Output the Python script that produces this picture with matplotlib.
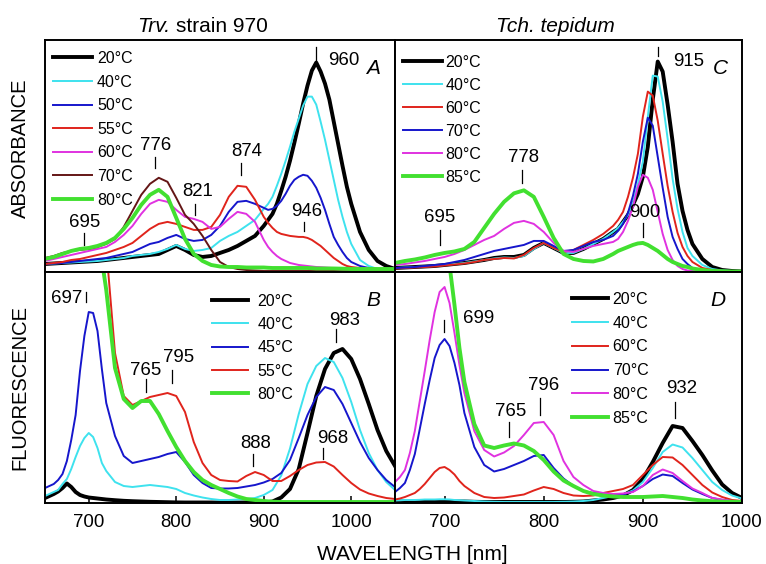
import matplotlib
matplotlib.use("Agg")
import matplotlib.pyplot as plt

plt.rcParams['font.family'] = ['Liberation Sans', 'DejaVu Sans']

# ---------------- wavelength grids (nm) ----------------
wl_a = list(range(650, 901, 10)) + list(range(905, 1001, 5)) + list(range(1010, 1051, 10))
wl_c = list(range(650, 871, 10)) + list(range(875, 951, 5)) + list(range(960, 1001, 10))
wl_b = list(range(650, 721, 5)) + list(range(730, 1051, 10))
wl_b_hot = list(range(700, 721, 5)) + list(range(730, 1051, 10))
wl_d = list(range(650, 721, 5)) + list(range(730, 1001, 10))
wl_d_hot = list(range(700, 721, 5)) + list(range(730, 1001, 10))

# ---------------- Trv. strain 970, absorbance (a.u.) ----------------
abs_a_20 = [8, 8.5, 9, 9.5, 10, 10.5, 11, 12, 13, 14, 15, 16, 17, 18, 22, 26, 22, 17, 15, 16,
            19, 22, 26, 31, 36, 46,
            52, 58, 68, 81, 95, 111, 129, 148, 168, 186, 201, 209, 200, 188, 172, 150, 128, 106, 85, 68,
            40, 22, 11, 6, 3]
abs_a_40 = [8, 8.5, 9, 9.5, 10, 10.5, 11, 12, 13, 14, 16, 17, 18, 20, 23, 27, 23, 21, 22, 24,
            31, 36, 40, 46, 52, 63,
            68, 75, 86, 98, 111, 125, 140, 153, 166, 175, 175, 167, 150, 132, 112, 92, 72, 55, 40, 28,
            12, 6, 3, 2, 1.5]
abs_a_50 = [8, 8.5, 9, 10, 11, 12, 13, 14, 16, 18, 20, 24, 28, 30, 34, 37, 33, 31, 32, 37,
            46, 60, 70, 71, 68, 64,
            62, 63, 66, 71, 78, 86, 92, 95, 97, 96, 91, 84, 74, 62, 48, 35, 27, 20, 14, 10,
            6, 4, 3, 2, 1.5]
abs_a_55 = [8, 9, 10, 12, 13, 15, 17, 19, 22, 25, 29, 36, 43, 48, 50, 48, 45, 42, 42, 45,
            57, 75, 86, 85, 72, 55,
            49, 44, 40, 38, 37, 36, 35.5, 35, 35, 34, 32, 29, 26, 22, 18, 14, 11, 8, 6, 5,
            4, 3, 2, 1.5, 1]
abs_a_60 = [11, 13, 15, 17, 19, 21, 23, 25, 30, 37, 46, 58, 68, 72, 70, 62, 55, 53, 50, 43,
            45, 53, 60, 58, 50, 32,
            25, 20, 16, 13, 11, 9, 8, 7, 6.5, 6, 5.5, 5, 4.8, 4.5, 4.2, 4, 3.8, 3.5, 3.2, 3,
            2.5, 2, 1.5, 1, 1]
abs_a_70 = [14, 16, 19, 21, 22, 23, 25, 28, 33, 45, 61, 77, 88, 94, 90, 74, 57, 48, 36, 22,
            10, 5, 3, 2, 1.5, 1,
            1, 1, 1, 1, 1, 1, 1, 1, 1, 1, 1, 1, 1, 1, 1, 1, 0.9, 0.8, 0.8, 0.8,
            0.5, 0.5, 0.5, 0.5, 0.5]
abs_a_80 = [13, 15, 18, 21, 23, 24, 26, 29, 34, 43, 54, 67, 77, 82, 75, 54, 33, 18, 11, 7,
            5.5, 5, 5, 4.5, 4.5, 4.5,
            4.2, 4, 4, 4, 4, 4, 4, 4, 4, 4, 3.8, 3.5, 3.5, 3.5, 3.5, 3.5, 3.4, 3.3, 3.2, 3,
            3, 3, 3, 3, 3]

# ---------------- Tch. tepidum, absorbance (a.u.) ----------------
abs_c_20 = [4, 4.5, 5, 5.5, 6, 7, 8, 9, 10.5, 12,
            14, 15, 15, 17, 24, 29, 24, 19, 19, 23,
            28, 33, 40,
            43, 50, 57, 67, 78, 95, 125, 172, 210, 200, 167, 130, 88, 61, 42, 28,
            13, 5, 2, 1, 0.5]
abs_c_40 = [4, 4.5, 5, 5.5, 6, 7, 8, 9, 10.5, 12,
            13.5, 14.5, 14, 16, 23, 29, 24, 19, 19, 23,
            28, 33, 40,
            44, 50, 57, 69, 88, 110, 155, 196, 195, 170, 133, 93, 63, 40, 24, 16,
            7, 3, 1.5, 1, 0.5]
abs_c_60 = [3.5, 4, 4.5, 5, 5.5, 6.5, 7.5, 8.5, 10, 12,
            13, 14, 13.5, 17, 24, 29, 24, 20, 22, 27,
            32, 38, 46,
            52, 60, 75, 94, 118, 155, 180, 176, 151, 118, 86, 60, 39, 25, 16, 10,
            4, 2, 1, 0.5, 0.5]
abs_c_70 = [4, 4.5, 5, 6, 7, 8, 10, 12, 15, 18,
            21, 23, 25, 27, 31, 31, 26, 21, 22, 26,
            30, 32, 36,
            41, 48, 59, 76, 98, 130, 154, 146, 115, 84, 55, 35, 23, 13, 8, 4,
            1.5, 1, 0.5, 0.5, 0.5]
abs_c_80 = [7, 8, 9.5, 11, 13, 15, 18, 22, 27, 32,
            36, 43, 49, 51, 48, 40, 29, 21, 20, 23,
            26, 28, 30,
            33, 40, 51, 65, 85, 97, 94, 82, 60, 38, 22, 12, 6, 3, 1.5, 1,
            0.5, 0.5, 0.5, 0.5, 0.5]
abs_c_85 = [9, 11, 12.5, 14.5, 17, 19, 20.5, 23, 30, 44,
            58, 70, 78.5, 81.5, 75, 55, 34, 18, 13, 11,
            10.5, 13, 18,
            21, 23, 25, 27, 28.5, 29, 27, 24, 21, 17, 13, 10, 8, 6, 5, 3.5,
            2, 1, 0.8, 0.5, 0.5]

# ---------------- Trv. strain 970, fluorescence (a.u.) ----------------
fl_b_20 = [5, 7, 9, 11.5, 15, 19.5, 16, 11, 8, 6.5, 5.5, 5, 4.5, 4, 3.5,
           2.8, 2.2, 1.8, 1.5, 1.2, 1, 0.8, 0.6, 0.5, 0.5,
           0.5, 0.5, 0.5, 0.5, 0.5, 0.5, 0.5, 0.5, 1.5, 5.5,
           14, 34, 70, 107, 134, 150, 154, 144, 124, 99,
           73, 52, 37]
fl_b_40 = [7, 9, 11, 13, 19, 24, 34, 46, 57, 65, 70, 66, 55, 40, 32,
           21, 17, 16, 17, 18, 17, 16, 14, 10, 7.5,
           5.5, 4, 3, 3, 3.5, 4, 5, 8, 13, 27.5,
           54.5, 89, 119, 137, 145, 141, 125, 101, 73, 50,
           33, 21, 13]
fl_b_45 = [15, 17, 19, 23, 29, 42, 63, 88, 132, 167, 191, 190, 172, 134, 100,
           67, 47, 40, 42, 44, 46, 49, 51, 41, 28,
           20, 15, 14.5, 14.5, 15, 16.5, 18, 20.5, 24, 30,
           43, 65, 88, 106, 116, 113, 99, 80, 61, 45,
           33, 23, 16]
fl_b_55 = [480, 420, 370, 315, 255,
           150, 107, 98, 102, 106, 108, 110, 107, 91, 61,
           40, 28, 23, 22, 21.5, 27, 31, 28, 22, 22,
           27, 33, 38, 40.5, 41, 36.5, 28, 20, 13.5, 9.5,
           7, 5, 4]
fl_b_80 = [340, 310, 275, 243, 213,
           135, 104, 95, 102, 102, 89, 72, 56, 42, 31,
           23, 18, 14, 10, 6.5, 4, 3, 2, 1.3, 1,
           1, 1, 1, 1, 1, 1, 1, 1, 1, 1,
           1, 1, 1]

# ---------------- Tch. tepidum, fluorescence (a.u.) ----------------
fl_d_20 = [1.5, 1.5, 1.5, 1.5, 1.5, 1.5, 1.5, 1.5, 1.5, 1.5, 1.5, 1.5, 1.5, 1.5, 1.5,
           1.2, 1, 1, 1, 1, 1, 1, 1, 1, 1,
           1.2, 1.5, 2.5, 3.5, 5, 7.5, 13, 24, 41, 60,
           77, 75, 62, 48, 32.5, 18.5, 10, 5]
fl_d_40 = [2.5, 2.7, 3, 3, 3, 3.2, 3.5, 3.5, 3.5, 3.7, 3.7, 3.5, 3, 2.8, 2.5,
           2, 1.5, 1.2, 1, 1, 1, 1, 1, 1, 1.2,
           1.5, 2, 3, 5, 7, 8.5, 12.5, 21, 35, 51,
           58.5, 55.5, 45, 33, 21, 13, 7.5, 4.5]
fl_d_60 = [3.5, 4.5, 6, 8, 10, 14, 19, 25, 31, 35, 36, 33, 28.5, 22, 17,
           10, 6, 5, 5.5, 7, 8.5, 12.5, 16, 14, 10,
           7.5, 7, 7.5, 10, 12, 14, 18, 28, 38, 46,
           45.5, 38, 28, 18, 10.5, 6, 3, 2]
fl_d_70 = [11, 15, 20, 33, 49, 74, 99, 123, 145, 158, 164, 157, 140, 118, 90,
           56, 38, 31.5, 34, 38, 42, 47, 48, 35, 24.5,
           17, 12, 10, 9, 8.5, 8.5, 11.5, 17, 24, 28.5,
           27, 20, 13.5, 9, 5, 3, 1.8, 1]
fl_d_80 = [21, 26, 33, 50, 72, 102, 132, 163, 191, 211, 216, 200, 170, 138, 110,
           72, 53, 46.5, 50.5, 57, 68, 80, 81, 68, 42,
           26, 18, 12, 10, 9, 9.5, 11, 17, 28, 33.5,
           30, 22, 14.5, 10, 5, 3.5, 2, 1.2]
fl_d_85 = [280, 238, 198, 155, 121,
           79, 57.5, 55, 57.5, 59.5, 57.5, 52, 43, 31.5, 22.5,
           17, 12, 9, 7.5, 6.5, 6, 6, 6, 6.5, 7,
           6, 5, 3.5, 2.5, 1.8, 1.3, 1.2, 1]

# ---------------- styles ----------------
BLACK, CYAN, BLUE, RED = '#000000', '#3ee2ee', '#1616cc', '#e0241c'
MAGENTA, BROWN, GREEN = '#e032e0', '#641616', '#42e030'
THICK, THIN = 2.8, 1.4

W, H = 766, 564
fig = plt.figure(figsize=(W / 100, H / 100), dpi=100)


def box(x0, y0, x1, y1):
    return [x0 / W, 1 - y1 / H, (x1 - x0) / W, (y1 - y0) / H]


axA = fig.add_axes(box(45, 40, 395, 272))
axC = fig.add_axes(box(395, 40, 742, 272))
axB = fig.add_axes(box(45, 272, 395, 503))
axD = fig.add_axes(box(395, 272, 742, 503))

panels = {
    axA: [('20°C', wl_a, abs_a_20, BLACK, THICK),
          ('40°C', wl_a, abs_a_40, CYAN, THIN),
          ('50°C', wl_a, abs_a_50, BLUE, THIN),
          ('55°C', wl_a, abs_a_55, RED, THIN),
          ('60°C', wl_a, abs_a_60, MAGENTA, THIN),
          ('70°C', wl_a, abs_a_70, BROWN, THIN),
          ('80°C', wl_a, abs_a_80, GREEN, THICK)],
    axC: [('20°C', wl_c, abs_c_20, BLACK, THICK),
          ('40°C', wl_c, abs_c_40, CYAN, THIN),
          ('60°C', wl_c, abs_c_60, RED, THIN),
          ('70°C', wl_c, abs_c_70, BLUE, THIN),
          ('80°C', wl_c, abs_c_80, MAGENTA, THIN),
          ('85°C', wl_c, abs_c_85, GREEN, THICK)],
    axB: [('20°C', wl_b, fl_b_20, BLACK, THICK),
          ('40°C', wl_b, fl_b_40, CYAN, THIN),
          ('45°C', wl_b, fl_b_45, BLUE, THIN),
          ('55°C', wl_b_hot, fl_b_55, RED, THIN),
          ('80°C', wl_b_hot, fl_b_80, GREEN, THICK)],
    axD: [('20°C', wl_d, fl_d_20, BLACK, THICK),
          ('40°C', wl_d, fl_d_40, CYAN, THIN),
          ('60°C', wl_d, fl_d_60, RED, THIN),
          ('70°C', wl_d, fl_d_70, BLUE, THIN),
          ('80°C', wl_d, fl_d_80, MAGENTA, THIN),
          ('85°C', wl_d_hot, fl_d_85, GREEN, THICK)],
}

for ax, series in panels.items():
    for label, wl, vals, col, lw in series:
        ax.plot(wl, vals, color=col, lw=lw, label=label, solid_joinstyle='round')

for ax in (axA, axB):
    ax.set_xlim(650, 1050)
for ax in (axC, axD):
    ax.set_xlim(650, 1000)
for ax in (axA, axC):
    ax.set_ylim(0, 231.5)
for ax in (axB, axD):
    ax.set_ylim(0, 231)

for ax in (axA, axB, axC, axD):
    ax.set_yticks([])
    for s in ax.spines.values():
        s.set_linewidth(1.4)
for ax in (axA, axC):
    ax.set_xticks([])
for ax in (axB, axD):
    ax.set_xticks([700, 800, 900, 1000])
    ax.tick_params(axis='x', direction='in', length=5, width=1.1,
                   labelsize=13.4, pad=8)

# legends
leg_cfg = {
    axA: dict(bbox_to_anchor=(0.023, 0.953), handlelength=2.45, handletextpad=0.3, labelspacing=0.54),
    axC: dict(bbox_to_anchor=(0.023, 0.936), handlelength=2.45, handletextpad=0.2, labelspacing=0.50),
    axB: dict(bbox_to_anchor=(0.477, 0.906), handlelength=2.25, handletextpad=0.6, labelspacing=0.52),
    axD: dict(bbox_to_anchor=(0.510, 0.914), handlelength=2.25, handletextpad=0.3, labelspacing=0.55),
}
for ax, cfg in leg_cfg.items():
    ax.legend(loc='upper left', frameon=False, fontsize=11.5, borderpad=0,
              borderaxespad=0, **cfg)

# peak markers: (axes, peak, text x, text baseline, pointer bottom, pointer top, ha)
peaks = [
    (axA, 695, 695, 44.8, 26.5, 38.5, 'center'),
    (axA, 776, 776, 121.8, 103.5, 114.5, 'center'),
    (axA, 821, 824, 75.8, 56.5, 67.5, 'center'),
    (axA, 874, 881, 115.8, 96.5, 108.5, 'center'),
    (axA, 946, 949, 55.8, 40.5, 49.5, 'center'),
    (axA, 960, 991.5, 206.8, 211.5, 225, 'center'),
    (axC, 915, 946, 205.3, 215.5, 224.8, 'center'),
    (axC, 778, 779.6, 109.3, 88.5, 101.5, 'center'),
    (axC, 695, 695.5, 49.8, 26.5, 41.5, 'center'),
    (axC, 900, 901.5, 55.3, 34.8, 48.8, 'center'),
    (axB, 697, 693, 199.6, 201.3, 211.3, 'right'),
    (axB, 765, 765.4, 128, 111.3, 124, 'center'),
    (axB, 795, 802.8, 141.3, 119.7, 133, 'center'),
    (axB, 888, 890.7, 54.6, 37.3, 49, 'center'),
    (axB, 968, 978.6, 59.6, 44, 55.3, 'center'),
    (axB, 983, 992, 178, 160.7, 174, 'center'),
    (axD, 699, 734, 179.6, 171.3, 183, 'center'),
    (axD, 765, 766.8, 87.3, 66.3, 81.3, 'center'),
    (axD, 796, 799.8, 113, 88, 104.7, 'center'),
    (axD, 932, 939.6, 109.6, 84.7, 101.3, 'center'),
]
for ax, pk, tx, ty, y0, y1, ha in peaks:
    ax.text(tx, ty, str(pk), ha=ha, va='baseline', fontsize=13.4)
    ax.plot([pk, pk], [y0, y1], color='black', lw=0.9)

# panel letters
for ax, letter, x in ((axA, 'A', 0.937), (axC, 'C', 0.937), (axB, 'B', 0.938), (axD, 'D', 0.932)):
    ax.text(x, 0.876, letter, transform=ax.transAxes, ha='center', va='center',
            fontsize=15, style='italic')

# titles and axis labels
t_genus = fig.text(137 / W, 1 - 31.7 / H, 'Trv.', style='italic', fontsize=15,
                   ha='left', va='baseline')
axA.annotate('strain 970', xy=(1, 0), xycoords=t_genus, xytext=(4.2, 0),
             textcoords='offset points', fontsize=15, ha='left', va='bottom',
             annotation_clip=False)
fig.text(555 / W, 1 - 31.7 / H, 'Tch. tepidum', style='italic', fontsize=15, ha='center', va='baseline')
fig.text(20 / W, 1 - 148 / H, 'ABSORBANCE', rotation=90, fontsize=14.5, ha='center', va='center')
fig.text(20 / W, 1 - 388 / H, 'FLUORESCENCE', rotation=90, fontsize=14.5, ha='center', va='center')
fig.text(412 / W, 1 - 555 / H, 'WAVELENGTH [nm]', fontsize=15, ha='center', va='center')

fig.savefig('out.png', dpi=100)
